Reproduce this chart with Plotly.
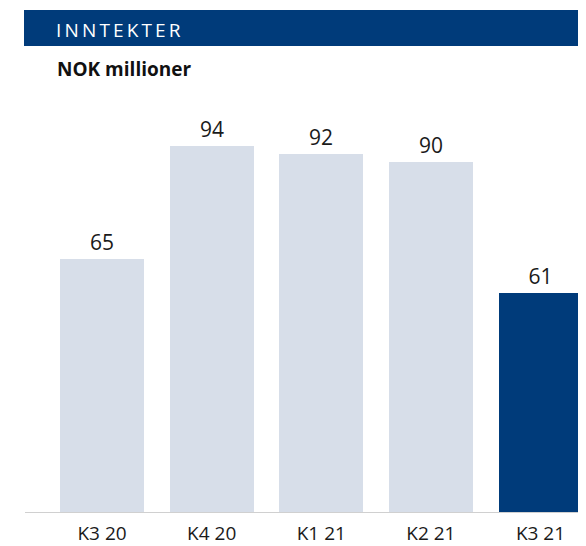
import plotly.graph_objects as go

categories = ["K3 20", "K4 20", "K1 21", "K2 21", "K3 21"]
bar_values = [65, 94, 92, 90, 56.3]
bar_labels = ["65", "94", "92", "90", "61"]
bar_colors = ["#d7dee9", "#d7dee9", "#d7dee9", "#d7dee9", "#003b7a"]

FONT = "Open Sans"
OFF = 8  # default page body margin
W, H = 586 - OFF, 546 - OFF
ml, mr, mt, mb = 17, 0, 92, 34
ph = H - mt - mb
pw = W - ml - mr

def py(y):  # target pixel y -> paper y
    return (H - mb - (y - OFF)) / ph

def px(x):
    return ((x - OFF) - ml) / pw

fig = go.Figure()
fig.add_trace(go.Bar(
    x=list(range(len(categories))),
    y=bar_values,
    text=bar_labels,
    textposition="outside",
    textfont=dict(size=21, color="#1a1a1a", family=FONT),
    marker=dict(color=bar_colors, line=dict(width=0)),
    width=0.766,
    cliponaxis=False,
    hoverinfo="skip",
))

fig.add_shape(type="rect", xref="paper", yref="paper",
              x0=px(24), x1=1, y0=py(46), y1=py(10),
              fillcolor="#003b7a", line=dict(width=0), layer="above")
sp = "\u2009"
fig.add_annotation(xref="paper", yref="paper", x=px(54), y=py(30),
                   xanchor="left", yanchor="middle", showarrow=False,
                   text=sp.join("INNTEKTER"),
                   font=dict(size=19, color="white", family=FONT))
fig.add_annotation(xref="paper", yref="paper", x=px(55), y=py(69),
                   xanchor="left", yanchor="middle", showarrow=False,
                   text="<b>NOK millioner</b>",
                   font=dict(size=19, color="#111111", family=FONT))

fig.update_layout(
    width=W, height=H,
    margin=dict(l=ml, r=mr, t=mt, b=mb, autoexpand=False),
    plot_bgcolor="white", paper_bgcolor="white",
    showlegend=False,
    bargap=0,
    font=dict(family=FONT, color="#1a1a1a"),
)
fig.update_xaxes(
    range=[-0.703, 4.415], automargin=False,
    tickmode="array", tickvals=list(range(len(categories))), ticktext=categories,
    showline=True, linecolor="#d0d0d0", linewidth=1,
    showgrid=False, zeroline=False, ticks="", ticklabelstandoff=4,
    tickfont=dict(size=19, color="#1a1a1a", family=FONT),
)
fig.update_yaxes(range=[0, ph / 3.89], visible=False, showgrid=False, zeroline=False, automargin=False)

fig.write_html("out.html")
